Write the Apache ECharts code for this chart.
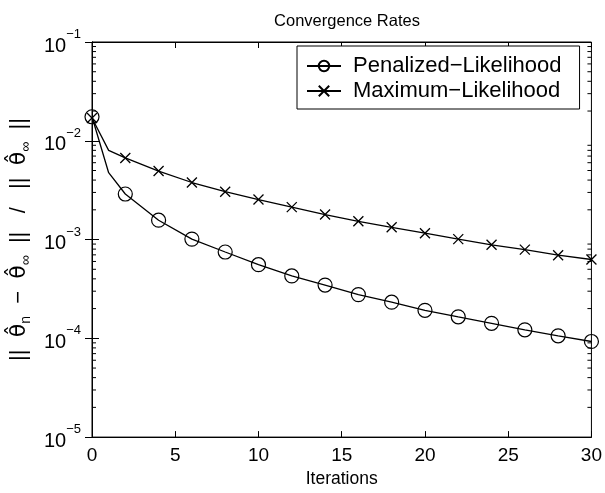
<!DOCTYPE html>
<html>
<head>
<meta charset="utf-8">
<script src="https://cdn.jsdelivr.net/npm/echarts@6/dist/echarts.min.js"></script>
<style>html,body{margin:0;padding:0;background:#fff}#c{width:605px;height:493px}</style>
</head>
<body>
<div id="c"></div>
<script>
const iterations = [0, 1, 2, 4, 6, 8, 10, 12, 14, 16, 18, 20, 22, 24, 26, 28, 30];
const penalized = [0.0175, 0.00475, 0.00289, 0.00157, 0.00101, 0.000748, 0.000557, 0.000428, 0.000346, 0.000277, 0.000232, 0.000192, 0.000165, 0.000142, 0.000122, 0.000106, 0.0000929];
const maximum = [0.0170, 0.0080, 0.0067, 0.00494, 0.00378, 0.00305, 0.00254, 0.00213, 0.00179, 0.00153, 0.00133, 0.00116, 0.00101, 0.000885, 0.00079, 0.000694, 0.000628];
const xTicks = [0, 5, 10, 15, 20, 25, 30];
const yDecades = [1e-5, 1e-4, 1e-3, 1e-2, 1e-1];
const minorMantissas = [2, 3, 4, 5, 6, 7, 8, 9];
const seriesNames = ['Penalized\u2212Likelihood', 'Maximum\u2212Likelihood'];
const titleText = 'Convergence Rates';
const xName = 'Iterations';

const FONT = 'Liberation Sans';
const minorTicks = [];
yDecades.slice(0, -1).forEach(d => minorMantissas.forEach(m => minorTicks.push([0, m * d])));

function mk(values) {
  return iterations.map((x, i) => x === 1 ? { value: [x, values[i]], symbol: 'none' } : [x, values[i]]);
}
const crossPath = 'path://M0,0L10,10M10,0L0,10';

const chart = echarts.init(document.getElementById('c'), null, { renderer: 'canvas' });
const yLabelFmt = v => {
  const e = Math.round(Math.log10(v));
  return '{b|10}{s|' + (e < 0 ? '\u2212' : '') + Math.abs(e) + '}';
};
const TH = '\u03B8\u0302';
chart.setOption({
  animation: false,
  backgroundColor: '#fff',
  title: {
    text: titleText, left: 342, top: 8, textAlign: 'center',
    textStyle: { fontFamily: FONT, fontSize: 16.5, fontWeight: 'normal', color: '#000' }
  },
  grid: { left: 92, right: 13, top: 42, bottom: 49, show: true, borderColor: '#000', borderWidth: 1, backgroundColor: '#fff' },
  legend: {
    data: seriesNames, orient: 'vertical', left: 297, top: 46,
    borderColor: '#000', borderWidth: 1, backgroundColor: '#fff', borderRadius: 0,
    padding: [8, 18, 6, 9], itemGap: 1, itemWidth: 34, itemHeight: 13,
    textStyle: { fontFamily: FONT, fontSize: 22, color: '#000', lineHeight: 24, padding: [0, 0, 0, 7] }
  },
  xAxis: [{
    type: 'value', min: 0, max: 30, interval: 5,
    name: xName, nameLocation: 'middle', nameGap: 29,
    nameTextStyle: { fontFamily: FONT, fontSize: 17.5, color: '#000' },
    axisLine: { lineStyle: { color: '#000' } },
    axisTick: { inside: true, length: 6, lineStyle: { color: '#000' } },
    axisLabel: { fontFamily: FONT, fontSize: 19, color: '#000', margin: 9 },
    splitLine: { show: false }
  }, {
    type: 'value', min: 0, max: 30, interval: 5, position: 'top',
    axisLine: { lineStyle: { color: '#000' } },
    axisTick: { inside: true, length: 6, lineStyle: { color: '#000' } },
    axisLabel: { show: false }, splitLine: { show: false }
  }],
  yAxis: [{
    type: 'log', logBase: 10, min: 1e-5, max: 1e-1,
    name: '{t|||  }{h|' + TH + '}{s|n}{t|  \u2212  }{h|' + TH + '}{s|\u221E}{t|  ||   /   ||  }{h|' + TH + '}{s|\u221E}{t|  ||}',
    nameLocation: 'middle', nameGap: 46, nameRotate: 90,
    nameTextStyle: {
      rich: {
        t: { fontFamily: FONT, fontSize: 22, color: '#000', lineHeight: 28, verticalAlign: 'middle' },
        h: { fontFamily: 'DejaVu Sans', fontSize: 22, color: '#000', lineHeight: 28, verticalAlign: 'middle' },
        s: { fontFamily: FONT, fontSize: 14, color: '#000', lineHeight: 28, verticalAlign: 'bottom' }
      }
    },
    axisLine: { lineStyle: { color: '#000' } },
    axisTick: { inside: true, length: 7, lineStyle: { color: '#000' } },
    axisLabel: {
      formatter: yLabelFmt, margin: 11,
      rich: {
        b: { fontFamily: FONT, fontSize: 20, color: '#000', verticalAlign: 'bottom', lineHeight: 28 },
        s: { fontFamily: FONT, fontSize: 13, color: '#000', verticalAlign: 'top', lineHeight: 28 }
      }
    },
    splitLine: { show: false }
  }, {
    type: 'log', logBase: 10, min: 1e-5, max: 1e-1, position: 'right',
    axisLine: { lineStyle: { color: '#000' } },
    axisTick: { inside: true, length: 7, lineStyle: { color: '#000' } },
    axisLabel: { show: false }, splitLine: { show: false }
  }],
  series: [{
    name: seriesNames[0], type: 'line', data: mk(penalized),
    symbol: 'circle', symbolSize: 14, showAllSymbol: true,
    lineStyle: { color: '#000', width: 1.3 },
    itemStyle: { color: 'rgba(0,0,0,0)', borderColor: '#000', borderWidth: 1.2 },
    z: 3
  }, {
    name: seriesNames[1], type: 'line', data: mk(maximum),
    symbol: crossPath, symbolSize: 10, showAllSymbol: true,
    lineStyle: { color: '#000', width: 1.3 },
    itemStyle: { color: 'rgba(0,0,0,0)', borderColor: '#000', borderWidth: 1.3 },
    z: 3
  }, {
    type: 'custom', data: minorTicks, silent: true, z: 4,
    renderItem: (params, api) => {
      const v = api.value(1);
      const pl = api.coord([0, v]);
      const pr = api.coord([30, v]);
      return {
        type: 'group', children: [
          { type: 'line', shape: { x1: pl[0], y1: pl[1], x2: pl[0] + 4, y2: pl[1] }, style: { stroke: '#000', lineWidth: 1 } },
          { type: 'line', shape: { x1: pr[0] - 4, y1: pr[1], x2: pr[0], y2: pr[1] }, style: { stroke: '#000', lineWidth: 1 } }
        ]
      };
    }
  }]
});
</script>
</body>
</html>
